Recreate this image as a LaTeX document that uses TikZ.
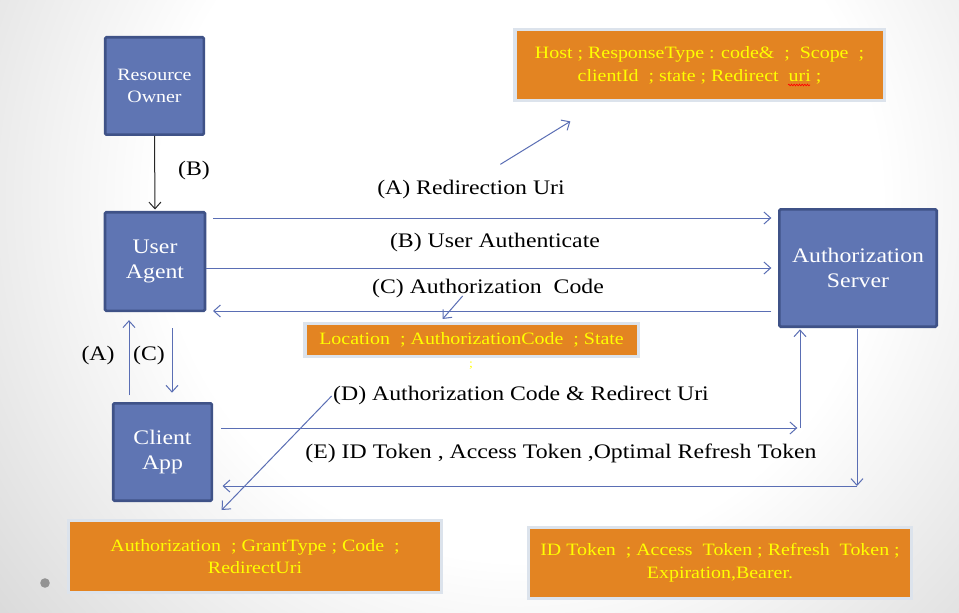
\documentclass[tikz,border=0pt]{standalone}
\usepackage{fontspec}
\setmainfont[FakeStretch=1.15]{Liberation Serif}
\usepackage{tikz}
\usetikzlibrary{arrows.meta,decorations.pathmorphing}
\definecolor{actorblue}{HTML}{5F75B3}
\definecolor{actoredge}{HTML}{3F5287}
\definecolor{notefill}{HTML}{E38422}
\definecolor{noteedge}{HTML}{DCE3EC}
\definecolor{noteink}{HTML}{FFFF00}
\definecolor{flowblue}{HTML}{5A6EB4}
\pgfdeclareradialshading{slide}{\pgfpoint{0bp}{0bp}}{color(0bp)=(white); color(6bp)=(white); color(14bp)=(gray!45); color(50bp)=(gray!45)}
\tikzstyle{actor}=[draw=actoredge,fill=actorblue,line width=2pt,rounded corners=1pt,text=white,align=center,inner sep=0pt,font=\fontsize{15.5}{19}\selectfont]
\tikzstyle{note}=[draw=noteedge,fill=notefill,line width=2.5pt,text=noteink,align=center,inner sep=0pt,font=\fontsize{13}{17}\selectfont]
\tikzstyle{msg}=[inner sep=1pt,font=\fontsize{15.5}{18}\selectfont]
\tikzstyle{flow}=[draw=flowblue,line width=0.75pt,-{Straight Barb[length=5pt,width=9pt]}]
\tikzstyle{spell}=[draw=red,line width=0.5pt,decorate,decoration={snake,amplitude=0.6pt,segment length=2pt}]

\begin{document}
\begin{tikzpicture}[x=0.75pt,y=-0.75pt]
\useasboundingbox (0,0) rectangle (959,613);
\begin{scope}
    \clip (0,0) rectangle (959,613);
    \shade[shading=slide] (520,200) circle (1500);
\end{scope}
\fill[gray!85] (45,583) circle (3.6pt);

\node [actor,minimum width=74pt,minimum height=73pt,font=\fontsize{13}{16.5}\selectfont] (owner) at (154.5,86) {Resource\\Owner};
\node [actor,minimum width=75pt,minimum height=74pt] (agent) at (155,261.5) {User\\Agent};
\node [actor,minimum width=74pt,minimum height=73pt] (client) at (162.5,452) {Client\\App};
\node [actor,minimum width=118pt,minimum height=88pt] (server) at (858,268) {Authorization\\Server};

\node [note,minimum width=277pt,minimum height=53pt] (authreq) at (699.5,65) {Host ; ResponseType : code\&\ \ ; \ Scope \ ;\\clientId \ ; state ; Redirect \ uri ;};
\node [note,minimum width=250pt,minimum height=24.5pt] (authresp) at (471.5,340) {Location \ ; AuthorizationCode \ ; State};
\node [msg,text=noteink,font=\fontsize{9}{10}\selectfont] (stray) at (471,366) {;};
\node [note,minimum width=279.5pt,minimum height=54pt] (tokenreq) at (255,556.5) {Authorization \ ; GrantType ; Code \ ;\\RedirectUri};
\node [note,minimum width=287pt,minimum height=53pt] (tokenresp) at (720,563) {ID Token \ ; Access \ Token ; Refresh \ Token ;\\Expiration,Bearer.};
\draw [spell] (788,85) -- (810,85);

\node [msg] (ownerlbl) at (194,171) {(B)};
\node [msg] (redirlbl) at (471,190) {(A) Redirection Uri};
\node [msg] (authnlbl) at (495,243) {(B) User Authenticate};
\node [msg] (codelbl) at (488,289) {(C) Authorization \ Code};
\node [msg] (uplbl) at (98,356) {(A)};
\node [msg] (downlbl) at (149,356) {(C)};
\node [msg] (exchlbl) at (521,396) {(D) Authorization Code \& Redirect Uri};
\node [msg] (tokenlbl) at (561,453) {(E) ID Token , Access Token ,Optimal Refresh Token};

\coordinate (dturn) at (800,428);
\coordinate (eturn) at (857,486);

\draw [flow,draw=black!85] (owner.south) -- ([yshift=1pt]agent.north);
\draw [flow] ([xshift=5pt]agent.east |- 0,218) -- ([xshift=-5pt]server.west |- 0,218);
\draw [flow] (agent.east |- 0,268) -- ([xshift=-5pt]server.west |- 0,268);
\draw [flow] ([xshift=-5pt]server.west |- 0,311) -- ([xshift=5pt]agent.east |- 0,311);
\draw [flow] ([yshift=5pt]client.north -| 129,0) -- ([yshift=-6pt]agent.south -| 129,0);
\draw [flow] ([yshift=-12pt]agent.south -| 172,0) -- ([yshift=7pt]client.north -| 172,0);
\draw [flow] ([xshift=6pt]client.east |- dturn) -- ([xshift=-2pt]dturn);
\draw [flow] (dturn) -- ([yshift=-1pt]server.south -| dturn);
\draw [flow] ([yshift=-1pt]server.south -| eturn) -- (eturn);
\draw [flow] (eturn) -- ([xshift=7pt]client.east |- eturn);
\draw [flow] ([xshift=22pt,yshift=11pt]redirlbl.north) -- ++(70,-43);
\draw [flow] ([xshift=-19pt,yshift=3pt]codelbl.south) -- ++(-20,23);
\draw [flow] (exchlbl.west) -- ++(-110,114);
\end{tikzpicture}
\end{document}
